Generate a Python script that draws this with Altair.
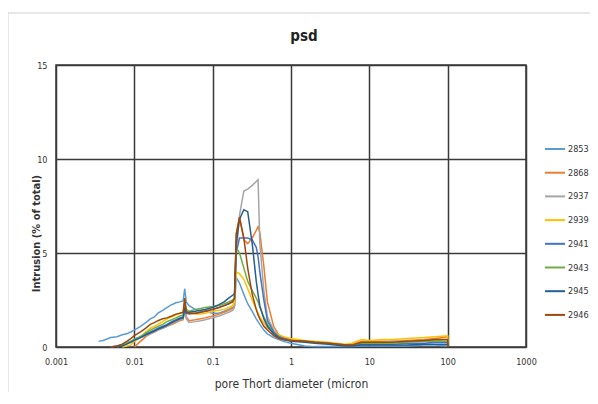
import altair as alt
import pandas as pd

X = [0.0035, 0.004, 0.005, 0.006, 0.007, 0.008, 0.009, 0.01, 0.012, 0.014,
     0.016, 0.018, 0.02, 0.023, 0.026, 0.03, 0.034, 0.038, 0.042, 0.044,
     0.046, 0.05, 0.06, 0.07, 0.08, 0.1, 0.12, 0.14, 0.16, 0.18,
     0.19, 0.2, 0.22, 0.25, 0.28, 0.32, 0.36, 0.38, 0.4, 0.45,
     0.5, 0.6, 0.7, 0.8, 1, 1.5, 2, 3, 5, 6,
     8, 10, 15, 20, 30, 50, 70, 100, 100.5]

N = None
S2853 = [0.3, 0.35, 0.5, 0.55, 0.65, 0.7, 0.8, 0.9, 1.1, 1.3,
         1.5, 1.6, 1.8, 1.95, 2.1, 2.25, 2.35, 2.4, 2.45, 3.1,
         2.4, 2.2, 2.0, 1.9, 1.9, 1.8, 1.8, 1.9, 2.0, 2.1,
         2.2, 3.7, 3.4, 2.8, 2.3, 1.9, 1.5, 1.35, 1.2, 0.9,
         0.7, 0.5, 0.4, 0.3, 0.2, 0.05, 0.02, 0.02, 0.02, 0.02,
         0.05, 0.05, 0.05, 0.05, 0.05, 0.1, 0.1, 0.05, 0]
S2868 = [N, N, N, N, N, N, N, 0.0, 0.3, 0.55,
         0.7, 0.8, 0.9, 1.0, 1.1, 1.2, 1.3, 1.4, 1.45, 2.2,
         1.6, 1.4, 1.45, 1.5, 1.55, 1.65, 1.75, 1.85, 1.95, 2.05,
         2.2, 6.0, 6.9, 5.7, 5.5, 5.8, 6.2, 6.4, 6.1, 4.3,
         2.4, 1.1, 0.65, 0.5, 0.4, 0.3, 0.28, 0.2, 0.1, 0.15,
         0.3, 0.3, 0.3, 0.3, 0.35, 0.4, 0.45, 0.55, 0]
S2937 = [N, N, N, 0.0, 0.1, 0.2, 0.3, 0.35, 0.5, 0.6,
         0.7, 0.8, 0.9, 1.0, 1.1, 1.25, 1.35, 1.45, 1.5, 2.0,
         1.5, 1.3, 1.35, 1.4, 1.45, 1.55, 1.65, 1.75, 1.85, 1.95,
         2.1, 5.0, 7.0, 8.3, 8.4, 8.6, 8.8, 8.9, 5.5, 3.0,
         1.6, 0.9, 0.6, 0.45, 0.35, 0.3, 0.25, 0.2, 0.1, 0.12,
         0.25, 0.25, 0.25, 0.3, 0.3, 0.35, 0.35, 0.4, 0]
S2939 = [N, N, N, N, 0.0, 0.05, 0.1, 0.3, 0.55, 0.8,
         1.0, 1.1, 1.2, 1.35, 1.5, 1.6, 1.7, 1.8, 1.85, 2.5,
         1.9, 1.8, 1.75, 1.75, 1.8, 1.9, 1.95, 2.0, 2.1, 2.2,
         2.4, 4.0, 3.9, 3.6, 3.1, 2.5, 2.0, 1.8, 1.6, 1.3,
         1.0, 0.8, 0.65, 0.55, 0.45, 0.35, 0.3, 0.25, 0.15, 0.2,
         0.4, 0.35, 0.4, 0.4, 0.45, 0.5, 0.55, 0.6, 0]
S2941 = [N, N, 0.0, 0.05, 0.1, 0.2, 0.3, 0.4, 0.55, 0.7,
         0.8, 0.9, 1.0, 1.1, 1.2, 1.35, 1.45, 1.55, 1.6, 2.2,
         1.8, 1.75, 1.8, 1.85, 1.9, 2.0, 2.1, 2.2, 2.3, 2.45,
         2.6, 5.0, 5.8, 5.8, 5.8, 5.7, 5.3, 4.8, 4.0, 2.5,
         1.4, 0.8, 0.55, 0.45, 0.35, 0.3, 0.25, 0.2, 0.1, 0.1,
         0.15, 0.15, 0.15, 0.15, 0.2, 0.2, 0.25, 0.25, 0]
S2943 = [N, N, N, 0.0, 0.1, 0.2, 0.3, 0.4, 0.55, 0.75,
         0.9, 1.0, 1.1, 1.2, 1.35, 1.45, 1.55, 1.65, 1.7, 2.4,
         2.0, 1.9, 2.0, 2.05, 2.1, 2.15, 2.2, 2.3, 2.4, 2.5,
         2.6, 5.3, 5.0, 4.2, 3.5, 3.0, 2.6, 2.4, 2.1, 1.6,
         1.2, 0.7, 0.5, 0.4, 0.35, 0.3, 0.25, 0.2, 0.05, 0.1,
         0.2, 0.2, 0.2, 0.2, 0.25, 0.3, 0.3, 0.3, 0]
S2945 = [N, N, N, 0.0, 0.05, 0.15, 0.25, 0.35, 0.5, 0.65,
         0.75, 0.85, 0.95, 1.05, 1.15, 1.3, 1.4, 1.5, 1.55, 2.1,
         1.8, 1.85, 1.9, 1.95, 2.0, 2.1, 2.25, 2.4, 2.6, 2.75,
         2.85, 5.5, 6.8, 7.3, 7.2, 5.5, 3.5, 2.8, 2.2, 1.5,
         1.1, 0.7, 0.5, 0.4, 0.3, 0.25, 0.2, 0.15, 0.05, 0.05,
         0.1, 0.1, 0.1, 0.1, 0.1, 0.15, 0.15, 0.15, 0]
S2946 = [N, N, 0.0, 0.05, 0.15, 0.3, 0.45, 0.6, 0.8, 1.0,
         1.2, 1.3, 1.4, 1.5, 1.55, 1.65, 1.75, 1.8, 1.85, 2.6,
         1.9, 1.8, 1.8, 1.85, 1.9, 2.0, 2.1, 2.2, 2.3, 2.4,
         2.6, 6.0, 6.9, 5.8, 4.2, 2.8, 2.0, 1.7, 1.5, 1.1,
         0.9, 0.6, 0.45, 0.4, 0.35, 0.3, 0.25, 0.2, 0.1, 0.1,
         0.25, 0.25, 0.25, 0.25, 0.3, 0.35, 0.4, 0.4, 0]

SERIES = ["2853", "2868", "2937", "2939", "2941", "2943", "2945", "2946"]
VALUES = [S2853, S2868, S2937, S2939, S2941, S2943, S2945, S2946]
COLORS = ["#5B9BD5", "#ED7D31", "#A5A5A5", "#FFC000", "#4472C4", "#70AD47", "#255E91", "#9E480E"]
X_TICKS = [0.001, 0.01, 0.1, 1, 10, 100, 1000]
Y_TICKS = [0, 5, 10, 15]
TITLE = "psd"

rows = []
for name, vals in zip(SERIES, VALUES):
    for i, (x, y) in enumerate(zip(X, vals)):
        if y is not None:
            rows.append({"series": name, "d": x, "v": y, "o": i})
df = pd.DataFrame(rows)

FONT = "Liberation Sans Narrow, DejaVu Sans Condensed, Liberation Sans, sans-serif"
GRID = "#3a3a3a"

one = pd.DataFrame({"a": [0]})

frame = alt.Chart(one).mark_rect(
    fill="transparent", stroke="#d0d0d0", strokeWidth=1
).encode(
    x=alt.value(-48), x2=alt.value(570), y=alt.value(-52), y2=alt.value(400)
)

title = alt.Chart(one).mark_text(
    text=TITLE, font=FONT, fontSize=15, fontWeight="bold", color="#222",
    align="center", baseline="middle"
).encode(x=alt.value(248), y=alt.value(-29))

lines = alt.Chart(df).mark_line(strokeWidth=1.5).encode(
    x=alt.X("d:Q", scale=alt.Scale(type="log", domain=[0.001, 1000], nice=False),
            axis=alt.Axis(values=X_TICKS, format="~g", title="pore Thort diameter (micron",
                          titleY=36, titleBaseline="middle", titleFontSize=12,
                          titleFontWeight="normal", labelPadding=10,
                          labelFlush=False)),
    y=alt.Y("v:Q", scale=alt.Scale(domain=[0, 15], nice=False),
            axis=alt.Axis(values=Y_TICKS, title="Intrusion (% of total)",
                          titleX=-20, titleY=168, titleAngle=270, titleAlign="center",
                          titleBaseline="middle", titleFontSize=11,
                          labelPadding=9)),
    color=alt.Color("series:N", scale=alt.Scale(domain=SERIES, range=COLORS),
                    legend=alt.Legend(title=None, orient="none", legendX=488, legendY=73,
                                      symbolType="stroke", symbolSize=400,
                                      symbolStrokeWidth=2, rowPadding=7.7,
                                      labelFontSize=9, labelOffset=2)),
    order="o:Q",
)

chart = alt.layer(frame, title, lines).properties(
    width=470, height=282,
    autosize=alt.AutoSizeParams(type="none"),
    padding={"left": 48, "top": 57, "right": 64, "bottom": 45},
).configure_view(
    stroke=GRID, strokeWidth=1.5
).configure_axis(
    domain=False, ticks=False, grid=True, gridColor=GRID, gridWidth=1.5, gridOpacity=1,
    labelFont=FONT, titleFont=FONT, labelFontSize=9, labelColor="#333", titleColor="#333"
).configure_legend(
    labelFont=FONT, labelColor="#333"
)

chart.save("out.html", embed_options={"renderer": "svg", "actions": False})
